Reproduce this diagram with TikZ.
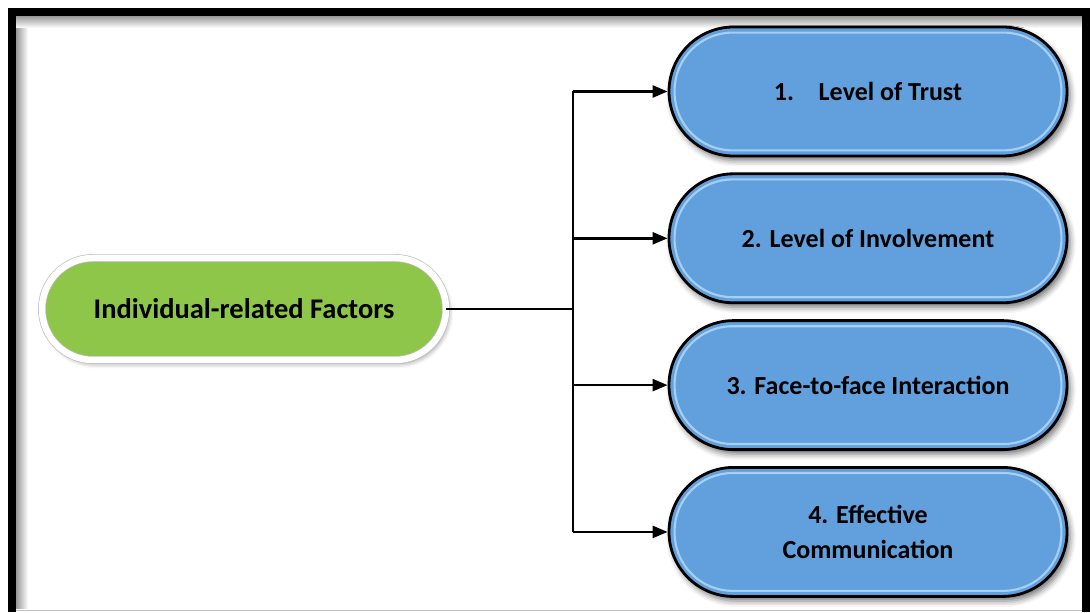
\documentclass[tikz,border=0pt]{standalone}
\usepackage{fontspec}
\setmainfont{Carlito}
\usetikzlibrary{arrows.meta, positioning, calc, shadows.blur}
\definecolor{factblue}{RGB}{98,160,221}
\definecolor{factbevel}{RGB}{165,208,244}
\definecolor{factgreen}{RGB}{141,198,72}

\tikzset{
  boxfont/.style={font=\bfseries\fontsize{14.8}{20}\selectfont},
  factor/.style={rectangle, rounded corners=1.29cm, minimum width=7.96cm,
    minimum height=2.58cm, fill=factblue, draw=black, line width=1.6pt,
    align=center, boxfont,
    blur shadow={shadow xshift=0.06cm, shadow yshift=-0.09cm,
      shadow blur radius=0.12cm, shadow opacity=55}},
  rootbox/.style={rectangle, rounded corners=1.02cm, minimum width=8.08cm,
    minimum height=2.04cm, fill=factgreen, draw=black!25, double=white,
    double distance=0.13cm, line width=0.4pt,
    font=\bfseries\fontsize{16.2}{20}\selectfont,
    blur shadow={shadow xshift=0.05cm, shadow yshift=-0.07cm,
      shadow blur radius=0.1cm, shadow opacity=45}},
  link/.style={line width=1.4pt},
  arrowlink/.style={link, -{Triangle[length=0.3cm,width=0.24cm]}}
}

\begin{document}
\begin{tikzpicture}
\useasboundingbox (0,0) rectangle (21.8,12.24);

% frame with its inner shade
\shade[left color=black!40, right color=white] (0.32,0.08) rectangle (0.56,11.92);
\shade[top color=black!40, bottom color=white] (0.32,11.92) rectangle (21.64,11.68);
\draw[line width=0.16cm] (0.24,0) -- (0.24,12.0) -- (21.72,12.0) -- (21.72,0);
\draw[black!25, line width=0.5pt] (0.32,0.04) -- (21.64,0.04);

% root and the four factors
\node[rootbox] (root) at (4.88,6.06) {Individual-related Factors};
\node[factor] (t1) at (17.36,10.41) {1.\hspace{0.95em}Level of Trust};
\node[factor, below=0.30cm of t1] (t2) {2. Level of Involvement};
\node[factor, below=0.30cm of t2] (t3) {3. Face-to-face Interaction};
\node[factor, below=0.30cm of t3] (t4) {4. Effective\\Communication};

% bevel ring inside each factor
\foreach \i in {1,...,4}
  \draw[factbevel, line width=1.2pt, rounded corners=1.16cm]
    ([shift={(0.14,0.14)}]t\i.south west) rectangle ([shift={(-0.14,-0.14)}]t\i.north east);

% connectors
\coordinate (bus) at (11.46,6.06);
\draw[link] (root.east) -- (bus);
\draw[link] (bus |- t1) -- (bus |- t4);
\foreach \i in {1,...,4}
  \draw[arrowlink] (bus |- t\i) -- (t\i.west);
\end{tikzpicture}
\end{document}
